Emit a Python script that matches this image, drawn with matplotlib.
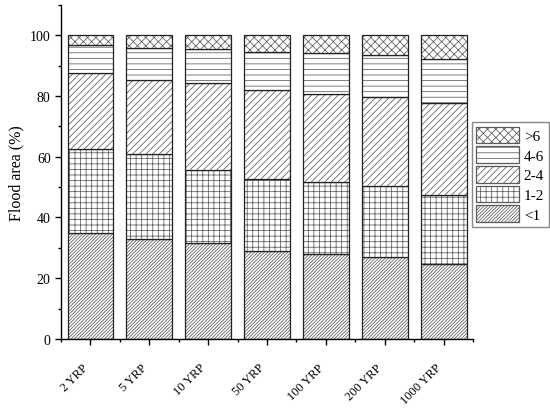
import matplotlib.pyplot as plt
import numpy as np
from matplotlib.ticker import MultipleLocator
from matplotlib.patches import Patch

plt.rcParams['font.family'] = ['Liberation Serif', 'DejaVu Serif']
plt.rcParams['hatch.linewidth'] = 0.55

# return periods
periods = ['2 YRP', '5 YRP', '10 YRP', '50 YRP', '100 YRP', '200 YRP', '1000 YRP']

# share of flooded area per depth class (%)
lt1 = [35.0, 32.9, 31.6, 29.0, 27.8, 27.1, 24.8]
d1_2 = [27.5, 28.0, 24.1, 23.6, 23.7, 23.1, 22.7]
d2_4 = [25.0, 24.3, 28.5, 29.3, 29.2, 29.6, 30.3]
d4_6 = [9.2, 10.7, 11.4, 12.4, 13.3, 13.6, 14.5]
gt6 = [3.3, 4.1, 4.4, 5.7, 6.0, 6.6, 7.7]

classes = ['<1', '1-2', '2-4', '4-6', '>6']
series = [lt1, d1_2, d2_4, d4_6, gt6]
# diagonal hatches in mpl are half as dense as '-' / '+', hence the counts
hatches = ['/' * 10, '+++', '/' * 5, '---', 'xxxx']
hatch_col = '#5a5a5a'
edge_col = '#222222'

fig = plt.figure(figsize=(5.5, 4.14), dpi=100)
ax = fig.add_axes([0.111, 0.179, 0.749, 0.807])

x = np.arange(len(periods))
bottom = np.zeros(len(periods))
handles = []
for vals, h, lab in zip(series, hatches, classes):
    # hatch in grey, then a darker outline on top
    ax.bar(x, vals, 0.78, bottom=bottom, color='white', edgecolor=hatch_col,
           linewidth=0, hatch=h)
    ax.bar(x, vals, 0.78, bottom=bottom, fill=False, edgecolor=edge_col,
           linewidth=0.9)
    handles.append(Patch(facecolor='white', edgecolor=hatch_col, hatch=h,
                         linewidth=0.9, label=lab))
    bottom += np.array(vals)

ax.set_xlim(-0.5, 6.5)
ax.set_ylim(0, 110)
ax.spines['top'].set_visible(False)
ax.spines['right'].set_visible(False)
ax.spines['left'].set_linewidth(1.0)
ax.spines['bottom'].set_linewidth(1.0)

ax.set_xticks(x)
ax.set_xticklabels(periods, rotation=45, ha='right', fontsize=9)
ax.xaxis.set_minor_locator(MultipleLocator(1, offset=0.5))
ax.set_yticks([0, 20, 40, 60, 80, 100])
ax.yaxis.set_minor_locator(MultipleLocator(10))
ax.tick_params(axis='y', which='major', length=4, width=1, labelsize=10)
ax.tick_params(axis='y', which='minor', length=2.5, width=1)
ax.tick_params(axis='x', which='major', length=4, width=1, pad=12)
ax.tick_params(axis='x', which='minor', length=2.5, width=1)
ax.set_ylabel('Flood area (%)', fontsize=11.5)

leg = fig.legend(handles[::-1], classes[::-1], loc='upper left',
                 bbox_to_anchor=(0.858, 0.703), borderaxespad=0,
                 fontsize=11, handlelength=2.8, handleheight=1.3,
                 labelspacing=0.2, handletextpad=0.3, borderpad=0.3,
                 fancybox=False, framealpha=1)
leg.get_frame().set_edgecolor('#888888')

fig.savefig('out.png', dpi=100)
